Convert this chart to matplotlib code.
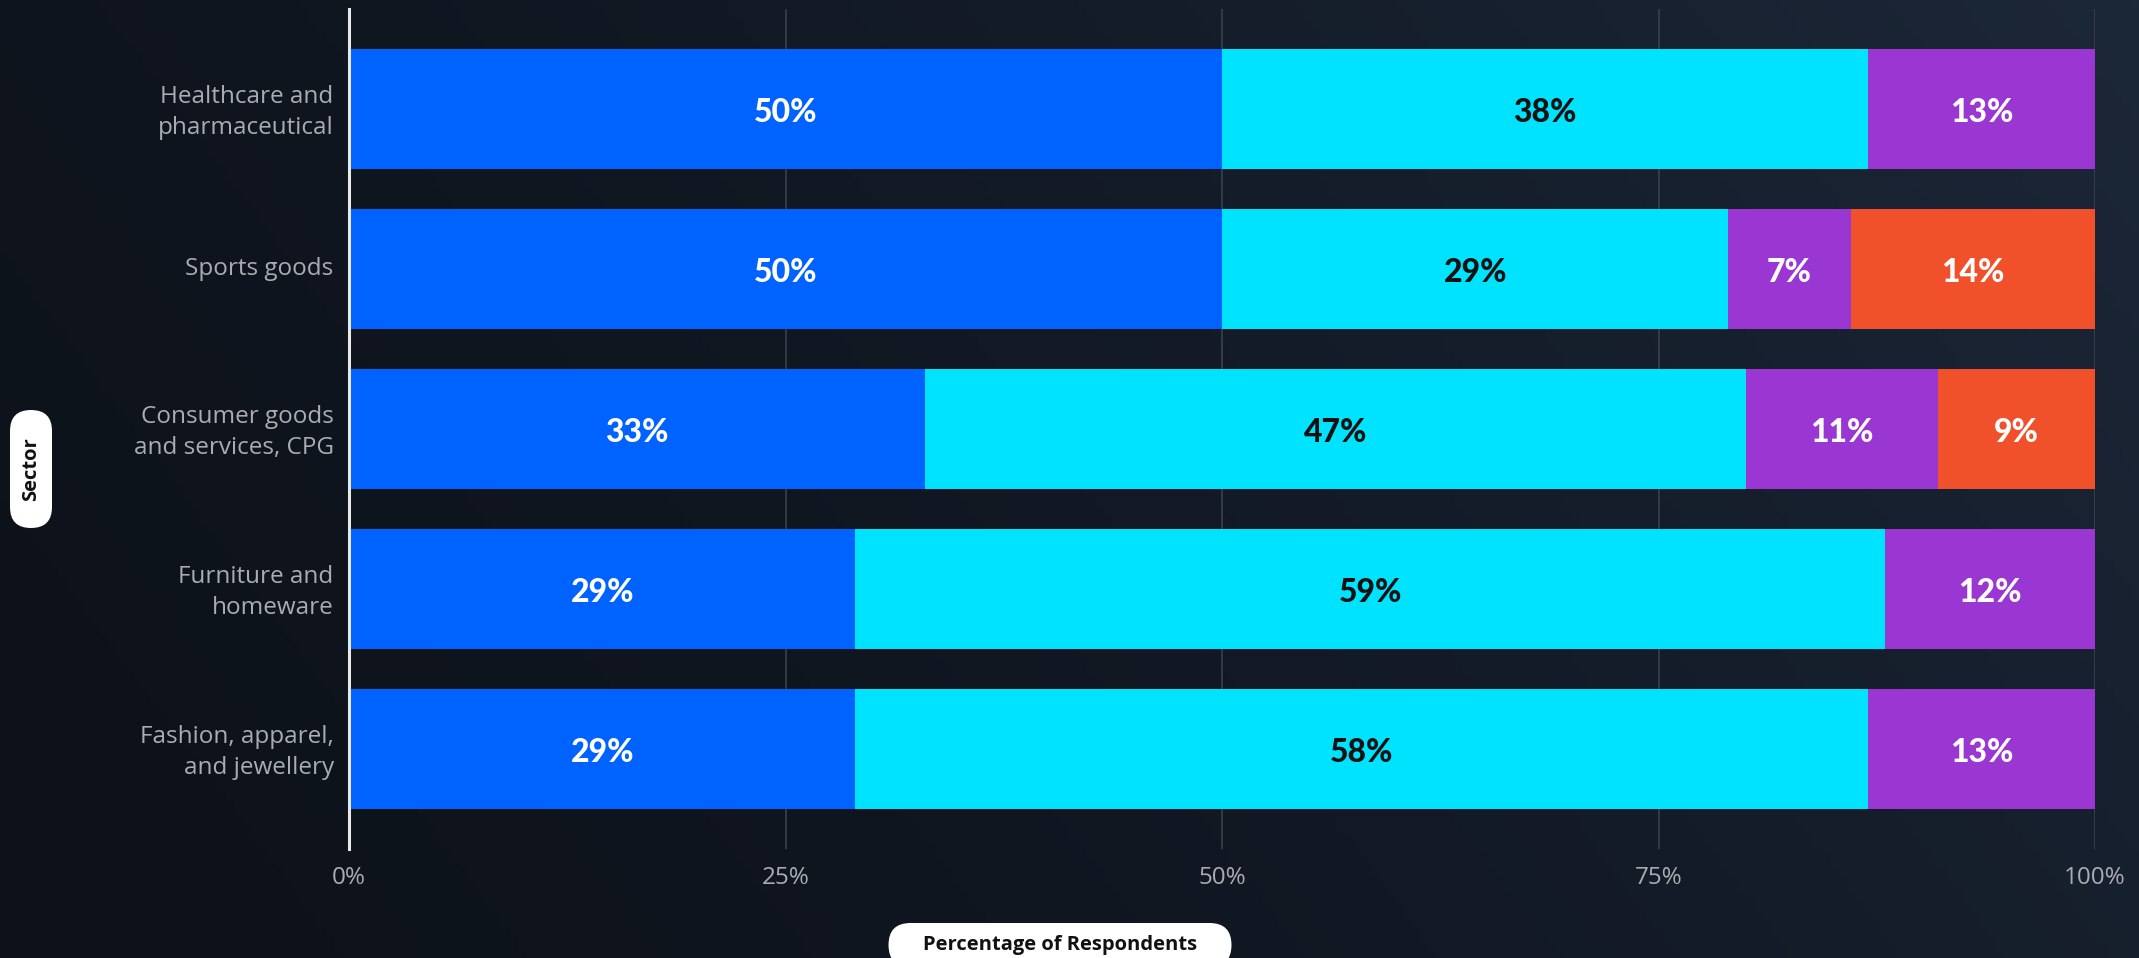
import matplotlib
matplotlib.use("Agg")
import matplotlib.pyplot as plt
import matplotlib.transforms as mtrans
import numpy as np
from matplotlib.patches import FancyBboxPatch

categories = ["Healthcare and\npharmaceutical", "Sports goods",
              "Consumer goods\nand services, CPG", "Furniture and\nhomeware",
              "Fashion, apparel,\nand jewellery"]
# segment widths as drawn (percent of respondents)
s1 = [50, 50, 33, 29, 29]
s2 = [37, 29, 47, 59, 58]
s3 = [13, 7, 11, 12, 13]
s4 = [0, 14, 9, 0, 0]
# labels as printed on the chart
l1 = ["50%", "50%", "33%", "29%", "29%"]
l2 = ["38%", "29%", "47%", "59%", "58%"]
l3 = ["13%", "7%", "11%", "12%", "13%"]
l4 = ["", "14%", "9%", "", ""]
series = [s1, s2, s3, s4]
labels = [l1, l2, l3, l4]
colors = ["#0062FF", "#00E3FF", "#9A37D3", "#F0512B"]
label_colors = ["white", "#111111", "white", "white"]
xticks = [0, 25, 50, 75, 100]
xticklabels = ["0%", "25%", "50%", "75%", "100%"]

W, H = 2139, 958
fig = plt.figure(figsize=(W / 100, H / 100), dpi=100)

# background gradient
bg = fig.add_axes([0, 0, 1, 1], zorder=-10)
bg.axis("off")
xx = np.linspace(0, 1, 256)
yy = np.linspace(0, 1, 128)
X, Y = np.meshgrid(xx, yy)
t = np.clip(0.75 * X + 0.25 * (1 - Y), 0, 1) ** 1.6
c0 = np.array([0x0D, 0x12, 0x1A]) / 255
c1 = np.array([0x1C, 0x27, 0x38]) / 255
img = c0[None, None, :] * (1 - t[..., None]) + c1[None, None, :] * t[..., None]
bg.imshow(img, aspect="auto", extent=[0, 1, 0, 1], origin="upper")

x0, x1 = 349, 2095
ytop, ybot = 9, 849
ax = fig.add_axes([x0 / W, 1 - ybot / H, (x1 - x0) / W, (ybot - ytop) / H])
ax.set_facecolor("none")

down = mtrans.ScaledTranslation(0, -4 / 100, fig.dpi_scale_trans)

ypos = np.arange(len(categories))
left = np.zeros(len(categories))
for vals, labs, col, lc in zip(series, labels, colors, label_colors):
    vals = np.array(vals, dtype=float)
    ax.barh(ypos, vals, left=left, height=0.75, color=col, zorder=3)
    for y, v, l, lab in zip(ypos, vals, left, labs):
        if v > 0 and lab:
            ax.text(l + v / 2, y, lab, ha="center", va="center",
                    color=lc, fontsize=23, fontweight="black", family="Lato",
                    zorder=4, transform=ax.transData + down)
    left += vals

ax.set_xlim(0, 100)
ax.set_ylim(len(categories) - 0.375, -0.625)
ax.set_yticks(ypos)
ax.set_yticklabels(categories, fontsize=17.5, color="#A9ADB3", family="Open Sans",
                   linespacing=1.4)
ax.set_xticks(xticks)
ax.set_xticklabels(xticklabels, fontsize=17.5, color="#A9ADB3", family="Open Sans")
ax.tick_params(axis="both", length=0)
ax.tick_params(axis="y", pad=11)
ax.tick_params(axis="x", pad=12)
up = mtrans.ScaledTranslation(0, 3 / 100, fig.dpi_scale_trans)
for lab in ax.get_yticklabels():
    lab.set_transform(lab.get_transform() + up)
for s in ["top", "right", "bottom"]:
    ax.spines[s].set_visible(False)
ax.spines["left"].set_color("#E8E8E8")
ax.spines["left"].set_linewidth(2.2)
ax.spines["left"].set_zorder(5)
for xv in xticks[1:]:
    ax.axvline(xv, color="#3E444E", lw=1.1, zorder=1)

# axis title pills
def pill(cx, cy, w, h, text, rot=0):
    r = min(w, h) / 2
    p = FancyBboxPatch(((cx - w / 2 + r) / W, 1 - (cy + h / 2 - r) / H),
                       (w - 2 * r) / W, (h - 2 * r) / H,
                       boxstyle=f"round,pad=0,rounding_size={r / W}",
                       transform=fig.transFigure, facecolor="white",
                       edgecolor="none", mutation_aspect=W / H)
    p.set_boxstyle("round", pad=r / W, rounding_size=r / W)
    fig.patches.append(p)
    fig.text(cx / W, 1 - cy / H, text, ha="center", va="center", rotation=rot,
             fontsize=14.5, fontweight="bold", family="Open Sans", color="#111111")

pill(31, 469, 42, 118, "Sector", rot=90)
pill(1060, 945, 343, 44, "Percentage of Respondents")

fig.savefig("out.png", dpi=100)
